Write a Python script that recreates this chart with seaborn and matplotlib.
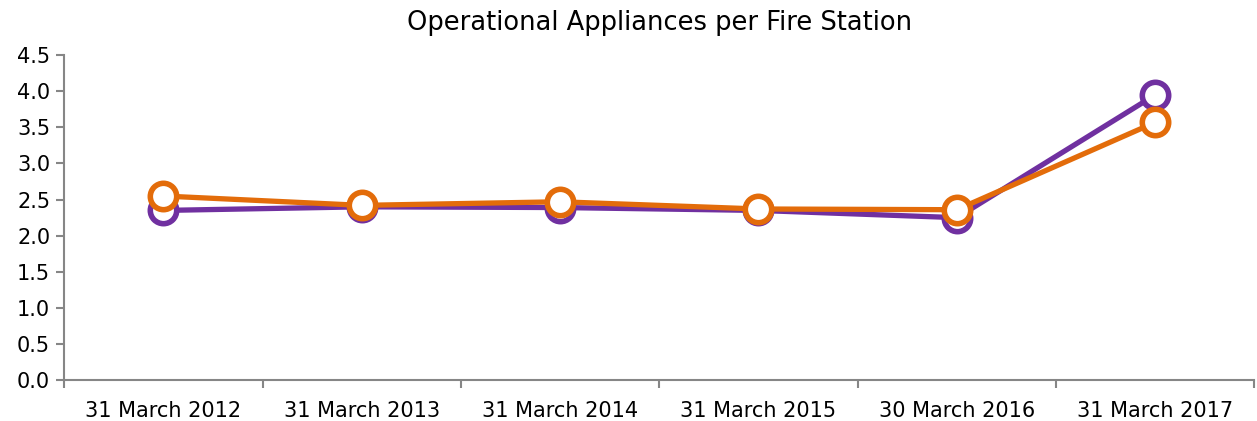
import matplotlib
matplotlib.use("Agg")
import matplotlib.pyplot as plt
import seaborn as sns
import pandas as pd

dates = ['31 March 2012', '31 March 2013', '31 March 2014',
         '31 March 2015', '30 March 2016', '31 March 2017']
purple_vals = [2.35, 2.40, 2.39, 2.35, 2.25, 3.95]
orange_vals = [2.55, 2.42, 2.47, 2.37, 2.36, 3.57]
series_names = ['Series A', 'Series B']
colors = ['#7030A0', '#E36C0A']
yticks = [0.0, 0.5, 1.0, 1.5, 2.0, 2.5, 3.0, 3.5, 4.0, 4.5]

sns.set_style("ticks")
plt.rcParams['font.family'] = ['DejaVu Sans']
plt.rcParams['text.color'] = 'black'
plt.rcParams['xtick.labelcolor'] = 'black'
plt.rcParams['ytick.labelcolor'] = 'black'

df = pd.DataFrame({
    'pos': list(range(len(dates))) * 2,
    'value': purple_vals + orange_vals,
    'series': [series_names[0]] * len(dates) + [series_names[1]] * len(dates),
})

fig = plt.figure(figsize=(12.57, 4.21), dpi=100)
ax = fig.add_axes([0.051, 0.097, 0.947, 0.772])

for name, col in zip(series_names, colors):
    sub = df[df['series'] == name]
    sns.lineplot(data=sub, x='pos', y='value', ax=ax, color=col, linewidth=3.8,
                 marker='o', markersize=19, markerfacecolor='white',
                 markeredgecolor=col, markeredgewidth=4, legend=False)

ax.set_xlim(-0.5, len(dates) - 0.5)
ax.set_ylim(0, 4.5)
ax.set_yticks(yticks)
ax.set_yticklabels([f'{v:.1f}' for v in yticks])
ax.set_xticks([i - 0.5 for i in range(len(dates) + 1)])
ax.set_xticklabels([])
ax.set_xticks(range(len(dates)), minor=True)
ax.set_xticklabels(dates, minor=True)
ax.tick_params(axis='x', which='minor', length=0, pad=15, labelsize=15)
ax.tick_params(axis='x', which='major', length=6, color='#868686', width=1.5)
ax.tick_params(axis='y', length=6, color='#868686', width=1.5, labelsize=15, pad=4)
ax.set_xlabel('')
ax.set_ylabel('')
for s in ['top', 'right']:
    ax.spines[s].set_visible(False)
for s in ['left', 'bottom']:
    ax.spines[s].set_color('#868686')
    ax.spines[s].set_linewidth(1.5)
ax.set_title('Operational Appliances per Fire Station', fontsize=18.5, pad=18,
             color='black')

plt.savefig('out.png', dpi=100)
